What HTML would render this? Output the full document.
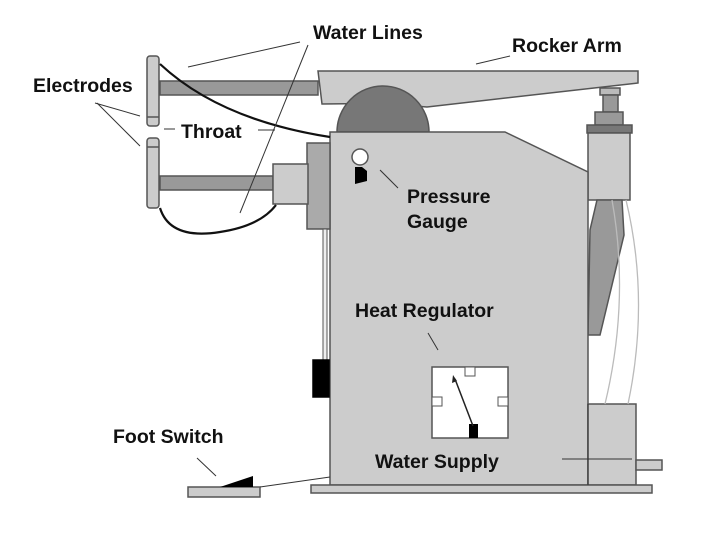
<!DOCTYPE html>
<html><head><style>body{margin:0;background:#fff}svg{display:block}text{font-family:"Liberation Sans",sans-serif;font-weight:bold;font-size:19.5px;fill:#111}</style></head>
<body><svg width="720" height="540" viewBox="0 0 720 540">
<g stroke="#555" stroke-width="1.5">
<rect x="160" y="81" width="158" height="14" fill="#999"/>
<rect x="160" y="176" width="113" height="14" fill="#999"/>
<rect x="147" y="56" width="12" height="70" rx="3" fill="#ccc"/>
<rect x="147" y="138" width="12" height="70" rx="3" fill="#ccc"/>
<line x1="147" y1="117" x2="159" y2="117"/><line x1="147" y1="147" x2="159" y2="147"/>
<path d="M318 71 L638 71 L638 83 L427 107 Q380 103 322 104 Z" fill="#ccc"/>
<path d="M337 132 A46 46 0 0 1 429 132 Z" fill="#777"/>
<rect x="600" y="88" width="20" height="7" fill="#bbb"/>
<rect x="603" y="95" width="15" height="17" fill="#999"/>
<rect x="595" y="112" width="28" height="13" fill="#999"/>
<rect x="587" y="125" width="45" height="8" fill="#777"/>
<rect x="588" y="133" width="42" height="67" fill="#ccc"/>
<path d="M597 200 L622 200 L624 235 L600 335 L588 335 L590 230 Z" fill="#999"/>
<path d="M330 132 L505 132 L588 172 L588 485 L330 485 Z" fill="#ccc"/>
<rect x="307" y="143" width="23" height="86" fill="#aaa"/>
<rect x="273" y="164" width="35" height="40" fill="#ccc"/>
<rect x="323" y="229" width="4" height="131" fill="#eee" stroke-width="1"/>
<rect x="313" y="360" width="16" height="37" fill="#000" stroke="#000"/>
<rect x="588" y="404" width="48" height="81" fill="#ccc"/>
<rect x="636" y="460" width="26" height="10" fill="#ccc"/>
<rect x="311" y="485" width="341" height="8" fill="#ccc"/>
<rect x="188" y="487" width="72" height="10" fill="#ccc"/>
<rect x="432" y="367" width="76" height="71" fill="#fff"/>
</g>
<g fill="#fff" stroke="#555" stroke-width="1"><rect x="465" y="367" width="10" height="9"/><rect x="432" y="397" width="10" height="9"/><rect x="498" y="397" width="10" height="9"/></g>
<rect x="469" y="424" width="9" height="14" fill="#000"/>
<line x1="473" y1="426" x2="455" y2="379" stroke="#222" stroke-width="1.5"/>
<path d="M453 375 L452 383 L457 381 Z" fill="#222"/>
<path d="M220 487 L253 476 L253 487 Z" fill="#000"/>
<circle cx="360" cy="157" r="8" fill="#fff" stroke="#555" stroke-width="1.5"/>
<path d="M355 167 L362 167 L367 171 L367 181 L355 184 Z" fill="#000"/>
<g fill="none" stroke="#111" stroke-width="2.2">
<path d="M160 64 Q220 120 330 137"/>
<path d="M160 208 Q170 240 220 232 Q260 226 276 205"/>
</g>
<g fill="none" stroke="#bbb" stroke-width="1.3">
<path d="M626 200 Q650 300 628 404"/><path d="M612 200 Q630 300 605 404"/>
</g>
<g stroke="#333" stroke-width="1">
<line x1="300" y1="42" x2="188" y2="67"/><line x1="308" y1="45" x2="240" y2="213"/>
<line x1="510" y1="56" x2="476" y2="64"/>
<line x1="95" y1="103" x2="140" y2="116"/><line x1="97" y1="103" x2="140" y2="146"/>
<line x1="164" y1="129" x2="175" y2="129"/><line x1="258" y1="130" x2="275" y2="130"/>
<line x1="380" y1="170" x2="398" y2="188"/>
<line x1="428" y1="333" x2="438" y2="350"/>
<line x1="197" y1="458" x2="216" y2="476"/>
<line x1="260" y1="487" x2="330" y2="477"/>
<line x1="562" y1="459" x2="632" y2="459"/>
<line x1="588" y1="404" x2="588" y2="485"/>
</g>
<text x="313" y="39">Water Lines</text>
<text x="512" y="52">Rocker Arm</text>
<text x="33" y="92">Electrodes</text>
<text x="181" y="138">Throat</text>
<text x="407" y="203">Pressure</text>
<text x="407" y="228">Gauge</text>
<text x="355" y="317">Heat Regulator</text>
<text x="113" y="443">Foot Switch</text>
<text x="375" y="468">Water Supply</text>
</svg></body></html>
